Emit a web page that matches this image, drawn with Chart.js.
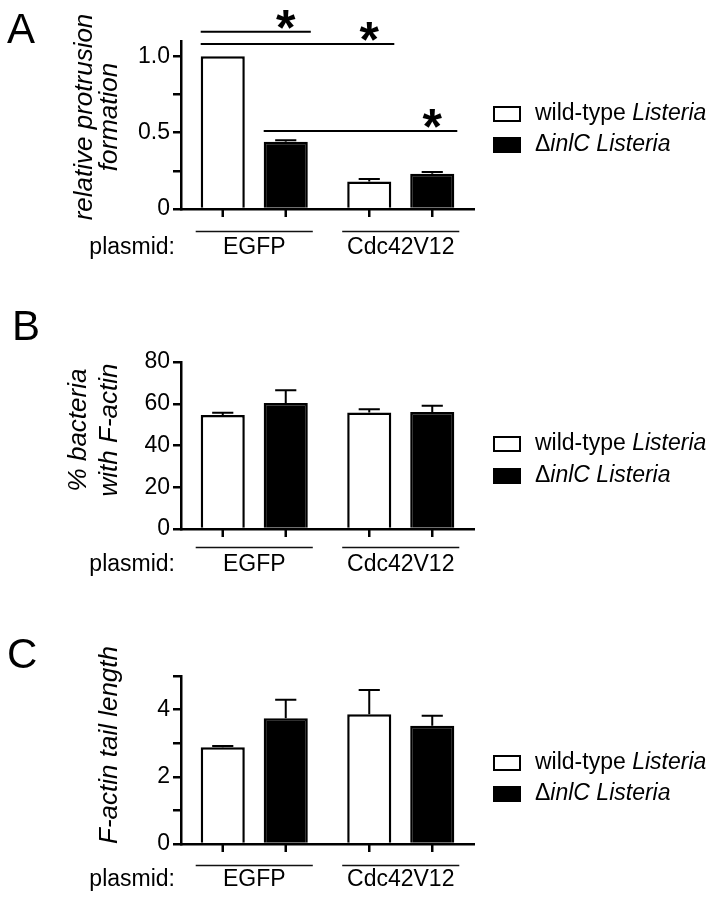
<!DOCTYPE html>
<html>
<head>
<meta charset="utf-8">
<script src="https://cdn.jsdelivr.net/npm/chart.js@4.4.0/dist/chart.umd.min.js"></script>
<style>
  body { margin: 0; background: #fff; }
  canvas { position: absolute; left: 0; }
</style>
</head>
<body>
<canvas id="chartA" width="714" height="290" style="top:0px"></canvas>
<canvas id="chartB" width="714" height="305" style="top:290px"></canvas>
<canvas id="chartC" width="714" height="307" style="top:595px"></canvas>
<script>
// categories and series
const groups = ['EGFP', 'Cdc42V12'];
const seriesLabels = ['wild-type Listeria', '\u0394inlC Listeria'];

// A: relative protrusion formation
const protrusionWT = [1.0, 0.18];
const protrusionWTErr = [0, 0.016];
const protrusionInlC = [0.44, 0.23];
const protrusionInlCErr = [0.01, 0.012];
const protrusionTicks = [0, 0.25, 0.5, 0.75, 1.0];
const protrusionTickLabels = ['0', '', '0.5', '', '1.0'];

// B: % bacteria with F-actin
const actinWT = [54.6, 55.8];
const actinWTErr = [1.1, 1.6];
const actinInlC = [60.4, 56.0];
const actinInlCErr = [6.1, 3.0];
const actinTicks = [0, 20, 40, 60, 80];
const actinTickLabels = ['0', '20', '40', '60', '80'];

// C: F-actin tail length
const tailWT = [2.88, 3.86];
const tailWTErr = [0.04, 0.72];
const tailInlC = [3.74, 3.52];
const tailInlCErr = [0.55, 0.30];
const tailTicks = [0, 1, 2, 3, 4, 5];
const tailTickLabels = ['0', '', '2', '', '4', ''];

// significance in A: [bar a, bar b, level], bars in left-to-right order
const protrusionSig = [[0, 1, 1.16], [0, 2, 1.08], [1, 3, 0.51]];

Chart.defaults.font.family = '"Liberation Sans", Arial, sans-serif';
Chart.defaults.color = '#000';

const FONT = '"Liberation Sans", Arial, sans-serif';

function barsInOrder(chart) {
  const m0 = chart.getDatasetMeta(0).data, m1 = chart.getDatasetMeta(1).data;
  const out = [];
  for (let i = 0; i < m0.length; i++) { out.push(m0[i], m1[i]); }
  return out;
}

function makeDeco(cfg) {
  return {
    id: 'panelDeco',
    afterDraw(chart) {
      const ctx = chart.ctx;
      const area = chart.chartArea;
      const y = chart.scales.y;
      ctx.save();
      ctx.fillStyle = '#000';
      ctx.strokeStyle = '#000';

      // panel letter
      ctx.font = '42px ' + FONT;
      ctx.textAlign = 'left';
      ctx.textBaseline = 'alphabetic';
      ctx.fillText(cfg.letter, cfg.letterX, cfg.letterY);

      // y axis title
      ctx.font = 'italic 26px ' + FONT;
      cfg.title.forEach((t, k) => {
        ctx.save();
        ctx.translate(cfg.titleX[k], cfg.titleY);
        ctx.rotate(-Math.PI / 2);
        ctx.textAlign = 'center';
        ctx.textBaseline = 'alphabetic';
        ctx.fillText(t, 0, 0);
        ctx.restore();
      });

      // error bars
      ctx.lineWidth = 2;
      [0, 1].forEach(di => {
        const errs = chart.data.datasets[di].err;
        chart.getDatasetMeta(di).data.forEach((bar, i) => {
          const v = chart.data.datasets[di].data[i];
          if (!errs[i]) return;
          const top = y.getPixelForValue(v + errs[i]);
          const half = bar.width * 0.24;
          ctx.beginPath();
          ctx.moveTo(bar.x, bar.y);
          ctx.lineTo(bar.x, top);
          ctx.moveTo(bar.x - half, top);
          ctx.lineTo(bar.x + half, top);
          ctx.stroke();
        });
      });

      const bars = barsInOrder(chart);

      // x tick marks under each bar
      ctx.lineWidth = 2.5;
      bars.forEach(b => {
        ctx.beginPath();
        ctx.moveTo(b.x, area.bottom);
        ctx.lineTo(b.x, area.bottom + 8);
        ctx.stroke();
      });

      // group lines and labels
      ctx.font = '23px ' + FONT;
      ctx.textBaseline = 'middle';
      groups.forEach((g, gi) => {
        const b0 = bars[gi * 2], b1 = bars[gi * 2 + 1];
        const x0 = b0.x - b0.width / 2 - 5, x1 = b1.x + b1.width / 2 + 5;
        ctx.lineWidth = 1.5;
        ctx.strokeStyle = '#111';
        ctx.beginPath();
        ctx.moveTo(x0, Math.round(area.bottom + cfg.groupLine) + 0.5);
        ctx.lineTo(x1, Math.round(area.bottom + cfg.groupLine) + 0.5);
        ctx.stroke();
        ctx.textAlign = 'center';
        ctx.fillText(g, (x0 + x1) / 2, area.bottom + cfg.groupLabel);
      });
      ctx.textAlign = 'right';
      ctx.fillText('plasmid:', 175, area.bottom + cfg.groupLabel);

      // legend
      ctx.strokeStyle = '#000';
      ctx.lineWidth = 2;
      const parts = [[['wild-type ', false], ['Listeria', true]], [['\u0394', false], ['inlC Listeria', true]]];
      parts.forEach((segs, k) => {
        const ry = cfg.legendY[k];
        const ds = chart.data.datasets[k];
        ctx.fillStyle = ds.backgroundColor;
        ctx.fillRect(494, ry - 7, 26, 14);
        ctx.strokeRect(494, ry - 7, 26, 14);
        ctx.fillStyle = '#000';
        ctx.textAlign = 'left';
        let tx = 535;
        segs.forEach(([t, it]) => {
          ctx.font = (it ? 'italic ' : '') + '23px ' + FONT;
          ctx.fillText(t, tx, ry);
          tx += ctx.measureText(t).width;
        });
      });

      // significance brackets
      if (cfg.sig) {
        cfg.sig.forEach(([a, b, lvl]) => {
          const ba = bars[a], bb = bars[b];
          const ly = y.getPixelForValue(lvl);
          ctx.lineWidth = 2;
          ctx.beginPath();
          ctx.moveTo(ba.x - ba.width / 2, ly);
          ctx.lineTo(bb.x + bb.width / 2 + 3, ly);
          ctx.stroke();
          ctx.font = 'bold 50px ' + FONT;
          ctx.textAlign = 'center';
          ctx.textBaseline = 'alphabetic';
          const m = ctx.measureText('*');
          ctx.fillText('*', bb.x, ly - 3 - m.actualBoundingBoxDescent);
        });
      }
      ctx.restore();
    }
  };
}

function makePanel(id, cfg) {
  return new Chart(document.getElementById(id).getContext('2d'), {
    type: 'bar',
    data: {
      labels: groups,
      datasets: [
        { label: seriesLabels[0], data: cfg.wt, err: cfg.wtErr, backgroundColor: '#fff', borderColor: '#000', borderWidth: 2.5 },
        { label: seriesLabels[1], data: cfg.inlc, err: cfg.inlcErr, backgroundColor: '#000', borderColor: '#000', borderWidth: 2.5 }
      ]
    },
    options: {
      responsive: false,
      animation: false,
      categoryPercentage: 0.86,
      barPercentage: 0.7,
      layout: { padding: { left: 0, right: 714 - 474, top: cfg.padTop, bottom: cfg.padBottom } },
      plugins: { legend: { display: false }, tooltip: { enabled: false } },
      scales: {
        x: {
          grid: { display: false },
          ticks: { display: false },
          border: { color: '#000', width: 2.5 },
          afterFit: s => { s.height = 0; }
        },
        y: {
          min: 0,
          max: cfg.max,
          afterBuildTicks: s => { s.ticks = cfg.ticks.map(v => ({ value: v })); },
          afterFit: s => { s.width = 181; },
          grid: { drawOnChartArea: false, tickLength: 8, color: '#000', lineWidth: 2.5 },
          border: { color: '#000', width: 2.5 },
          ticks: {
            color: '#000',
            padding: 3,
            font: { size: 23 },
            callback: (v, i) => cfg.tickLabels[i]
          }
        }
      }
    },
    plugins: [makeDeco(cfg)]
  });
}

makePanel('chartA', {
  wt: protrusionWT, wtErr: protrusionWTErr, inlc: protrusionInlC, inlcErr: protrusionInlCErr,
  max: 1.1, ticks: protrusionTicks, tickLabels: protrusionTickLabels,
  padTop: 41, padBottom: 81,
  letter: 'A', letterX: 7, letterY: 43,
  title: ['relative protrusion', 'formation'], titleX: [92, 117], titleY: 117,
  legendY: [114, 145], groupLine: 22, groupLabel: 39,
  sig: protrusionSig
});

makePanel('chartB', {
  wt: actinWT, wtErr: actinWTErr, inlc: actinInlC, inlcErr: actinInlCErr,
  max: 80, ticks: actinTicks, tickLabels: actinTickLabels,
  padTop: 72, padBottom: 66,
  letter: 'B', letterX: 12, letterY: 50,
  title: ['% bacteria', 'with F-actin'], titleX: [86, 117], titleY: 140,
  legendY: [154, 186], groupLine: 18, groupLabel: 36
});

makePanel('chartC', {
  wt: tailWT, wtErr: tailWTErr, inlc: tailInlC, inlcErr: tailInlCErr,
  max: 5, ticks: tailTicks, tickLabels: tailTickLabels,
  padTop: 81, padBottom: 58,
  letter: 'C', letterX: 7, letterY: 73,
  title: ['F-actin tail length'], titleX: [117], titleY: 150,
  legendY: [168, 199], groupLine: 21, groupLabel: 36
});
</script>
</body>
</html>
